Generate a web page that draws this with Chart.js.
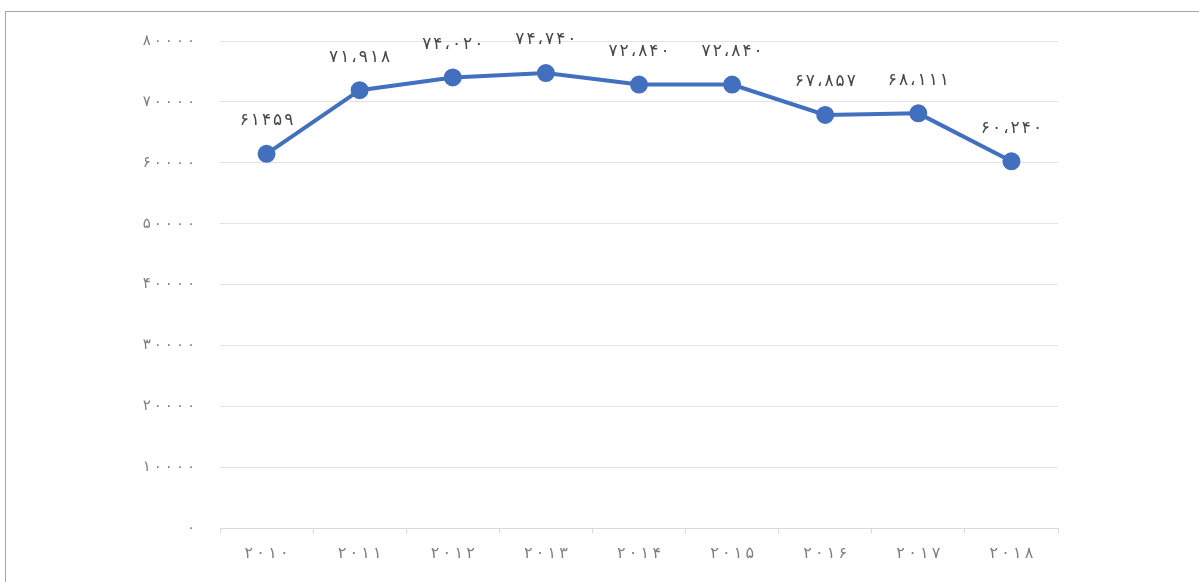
<!DOCTYPE html>
<html>
<head>
<meta charset="utf-8">
<script src="https://cdn.jsdelivr.net/npm/chart.js@4.4.1/dist/chart.umd.min.js"></script>
<style>
    html, body { margin: 0; padding: 0; background: #ffffff; }
    .frame {
        position: absolute; left: 5px; top: 11px; width: 1300px; height: 700px;
        border-top: 1px solid #a6a6a6; border-left: 1px solid #a6a6a6;
    }
    .chart-box { position: absolute; left: 0; top: 0; width: 1199px; height: 582px; }
</style>
</head>
<body>
<div class="frame"></div>
<div class="chart-box"><canvas id="lineChart" width="1199" height="582"></canvas></div>
<script>
const years = ['۲۰۱۰', '۲۰۱۱', '۲۰۱۲', '۲۰۱۳', '۲۰۱۴', '۲۰۱۵', '۲۰۱۶', '۲۰۱۷', '۲۰۱۸'];
const values = [61459, 71918, 74020, 74740, 72840, 72840, 67857, 68111, 60240];
const valueLabels = ['۶۱۴۵۹', '۷۱،۹۱۸', '۷۴،۰۲۰', '۷۴،۷۴۰', '۷۲،۸۴۰', '۷۲،۸۴۰', '۶۷،۸۵۷', '۶۸،۱۱۱', '۶۰،۲۴۰'];
const yMax = 80000;
const yStep = 10000;

const FONT = "'DejaVu Sans', 'Noto Sans', sans-serif";
const THIN = '\u2009';

function toPersian(n) {
    return String(n).replace(/\d/g, d => '۰۱۲۳۴۵۶۷۸۹'[d]);
}

// the labels in the picture are spaced out wide
function spaced(s) {
    return Array.from(s).join(THIN);
}

// draws the value text above every point, one glyph at a time
const valueLabelPlugin = {
    id: 'valueLabels',
    afterDatasetsDraw(chart) {
        const ctx = chart.ctx;
        const meta = chart.getDatasetMeta(0);
        const gap = 2;
        ctx.save();
        ctx.font = '17px ' + FONT;
        ctx.fillStyle = '#474747';
        ctx.textAlign = 'left';
        ctx.textBaseline = 'middle';
        meta.data.forEach((pt, i) => {
            const chars = Array.from(valueLabels[i]);
            const widths = chars.map(c => ctx.measureText(c).width);
            const total = widths.reduce((a, b) => a + b, 0) + gap * (chars.length - 1);
            let x = pt.x - total / 2;
            chars.forEach((c, k) => {
                ctx.fillText(c, x, pt.y - 33);
                x += widths[k] + gap;
            });
        });
        ctx.restore();
    }
};

const ctx = document.getElementById('lineChart').getContext('2d');
new Chart(ctx, {
    type: 'line',
    data: {
        labels: years,
        datasets: [{
            data: values,
            borderColor: '#4270be',
            backgroundColor: '#4270be',
            borderWidth: 4,
            pointRadius: 7,
            pointHoverRadius: 7,
            tension: 0,
        }]
    },
    plugins: [valueLabelPlugin],
    options: {
        responsive: false,
        animation: false,
        layout: { padding: { top: 41, right: 141, bottom: 0, left: 0 } },
        plugins: {
            legend: { display: false },
            tooltip: { enabled: false },
        },
        scales: {
            x: {
                offset: true,
                grid: {
                    offset: true,
                    drawOnChartArea: false,
                    color: '#d9d9d9',
                    tickLength: 5,
                },
                border: { display: true, color: '#d9d9d9' },
                ticks: {
                    color: '#7f7f7f',
                    font: { family: FONT, size: 16 },
                    padding: 11,
                    callback: function (v) { return spaced(this.getLabelForValue(v)); },
                },
                afterFit(scale) { scale.height = 54; },
            },
            y: {
                min: 0,
                max: yMax,
                ticks: {
                    stepSize: yStep,
                    color: '#7f7f7f',
                    font: { family: FONT, size: 15 },
                    padding: 25,
                    callback: v => spaced(toPersian(v)),
                },
                grid: { color: '#e3e3e3', drawTicks: false },
                border: { display: false },
                afterFit(scale) { scale.width = 220; },
            }
        }
    }
});
</script>
</body>
</html>
